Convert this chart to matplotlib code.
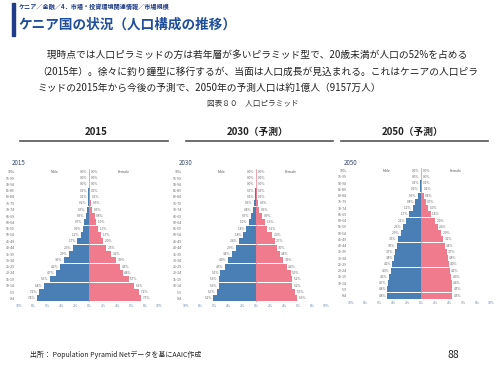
import matplotlib.pyplot as plt

plt.rcParams['font.family'] = ['Noto Sans CJK JP', 'DejaVu Sans']

# 年齢階級（下から上へ）
ages = ['0-4', '5-9', '10-14', '15-19', '20-24', '25-29', '30-34', '35-39',
        '40-44', '45-49', '50-54', '55-59', '60-64', '65-69', '70-74',
        '75-79', '80-84', '85-89', '90-94', '95-99', '100+']

# 人口構成比（%）: 男性・女性
male_2015 = [7.4, 7.2, 6.4, 5.6, 4.7, 4.2, 3.6, 2.9, 2.3, 1.7, 1.2, 0.9,
             0.7, 0.5, 0.3, 0.2, 0.1, 0.1, 0.0, 0.0, 0.0]
female_2015 = [7.5, 7.2, 6.5, 5.7, 4.8, 4.5, 3.9, 3.2, 2.5, 2.0, 1.7, 1.3,
               1.0, 0.8, 0.5, 0.3, 0.2, 0.1, 0.0, 0.0, 0.0]
male_2030 = [6.1, 5.6, 5.3, 5.3, 5.1, 4.5, 4.0, 3.4, 2.9, 2.4, 1.8, 1.4,
             1.0, 0.7, 0.4, 0.3, 0.1, 0.1, 0.0, 0.0, 0.0]
female_2030 = [5.9, 5.6, 5.2, 5.2, 5.0, 4.4, 3.9, 3.4, 3.0, 2.7, 2.3, 1.6,
               1.3, 0.9, 0.5, 0.3, 0.1, 0.1, 0.0, 0.0, 0.0]
male_2050 = [4.8, 4.8, 4.7, 4.6, 4.3, 4.1, 3.8, 3.7, 3.5, 3.3, 2.9, 2.6,
             2.1, 1.7, 1.2, 0.8, 0.5, 0.2, 0.1, 0.0, 0.0]
female_2050 = [4.5, 4.5, 4.4, 4.3, 4.1, 4.0, 3.8, 3.7, 3.4, 3.2, 2.9, 2.4,
               2.0, 1.4, 1.0, 0.7, 0.4, 0.2, 0.1, 0.0, 0.0]

ticks = [-10, -8, -6, -4, -2, 0, 2, 4, 6, 8, 10]
tick_labels = ['10%', '8%', '6%', '4%', '2%', '0%', '2%', '4%', '6%', '8%', '10%']

BLUE = '#4a7fb5'
PINK = '#f07b8c'
W, H = 500, 375

fig = plt.figure(figsize=(5, 3.75), dpi=100)


def ftext(x, y, s, **kw):
    fig.text(x / W, 1 - y / H, s, **kw)


def pyramid(x0, x1, ytop, ybot, year, male, female):
    ax = fig.add_axes([x0 / W, 1 - ybot / H, (x1 - x0) / W, (ybot - ytop) / H])
    y = range(len(ages))
    ax.axvline(0, color=PINK, lw=0.5, zorder=1)
    ax.barh(y, [-v for v in male], height=0.95, color=BLUE, zorder=2)
    ax.barh(y, female, height=0.95, color=PINK, zorder=2)
    for i, (m, f) in enumerate(zip(male, female)):
        ax.text(-m - 0.2, i, f'{m:.1f}%', ha='right', va='center',
                fontsize=2.3, color='#666666')
        ax.text(f + 0.2, i, f'{f:.1f}%', ha='left', va='center',
                fontsize=2.3, color='#666666')
    ax.text(-5, 20, 'Male', ha='center', va='center', fontsize=2.5, color='#555555')
    ax.text(5, 20, 'Female', ha='center', va='center', fontsize=2.5, color='#555555')
    ax.set_xlim(-10.3, 10.3)
    ax.set_ylim(-0.5, 20.5)
    ax.set_xticks(ticks)
    ax.set_xticklabels(tick_labels, fontsize=2.5, color='#6a86a8')
    ax.set_yticks(list(y))
    ax.set_yticklabels(ages, fontsize=2.5, color='#666666')
    ax.tick_params(length=0, pad=1.5)
    for s in ax.spines.values():
        s.set_visible(False)
    ftext(x0 - 5, ytop - 5, year, fontsize=4.5, color='#3a4a6a', va='center')


# ヘッダー
fig.patches.append(plt.Rectangle((12 / W, 1 - 36 / H), 3 / W, 33 / H,
                                 transform=fig.transFigure, color='#1f3c88'))
ftext(19, 7, 'ケニア／金融／4．市場・投資環境関連情報／市場規模',
      fontsize=4.4, color='#1f3c88', va='center', weight='bold')
ftext(18, 25, 'ケニア国の状況（人口構成の推移）', fontsize=9.8,
      color='#1f4e9c', va='center', weight='bold')

# 本文
ftext(37, 55, '　現時点では人口ピラミッドの方は若年層が多いピラミッド型で、20歳未満が人口の52%を占める',
      fontsize=7, color='#222222', va='center')
ftext(37, 72, '（2015年）。徐々に釣り鐘型に移行するが、当面は人口成長が見込まれる。これはケニアの人口ピラ',
      fontsize=7, color='#222222', va='center')
ftext(37, 88, 'ミッドの2015年から今後の予測で、2050年の予測人口は約1億人（9157万人）',
      fontsize=7, color='#222222', va='center')
ftext(253, 104, '図表８０　人口ピラミッド', fontsize=5.5, color='#333333',
      ha='center', va='center')

# 見出し
for cx, label, lx0, lx1 in [(96, '2015', 20, 168),
                            (258, '2030（予測）', 186, 333),
                            (413, '2050（予測）', 341, 488)]:
    ftext(cx, 132, label, fontsize=7, weight='bold', ha='center', va='center',
          color='#222222')
    fig.add_artist(plt.Line2D([lx0 / W, lx1 / W], [1 - 141 / H, 1 - 141 / H],
                              color='#555555', lw=1.2))

pyramid(17, 161, 168.5, 301.5, '2015', male_2015, female_2015)
pyramid(184, 328, 168.5, 301.5, '2030', male_2030, female_2030)
pyramid(349, 493, 167.6, 298.8, '2050', male_2050, female_2050)

# フッター
ftext(30, 355, '出所： Population Pyramid Netデータを基にAAIC作成', fontsize=5,
      color='#222222', va='center')
ftext(448, 355, '88', fontsize=7.5, color='#222222', va='center')

fig.savefig('out.png', dpi=100)
